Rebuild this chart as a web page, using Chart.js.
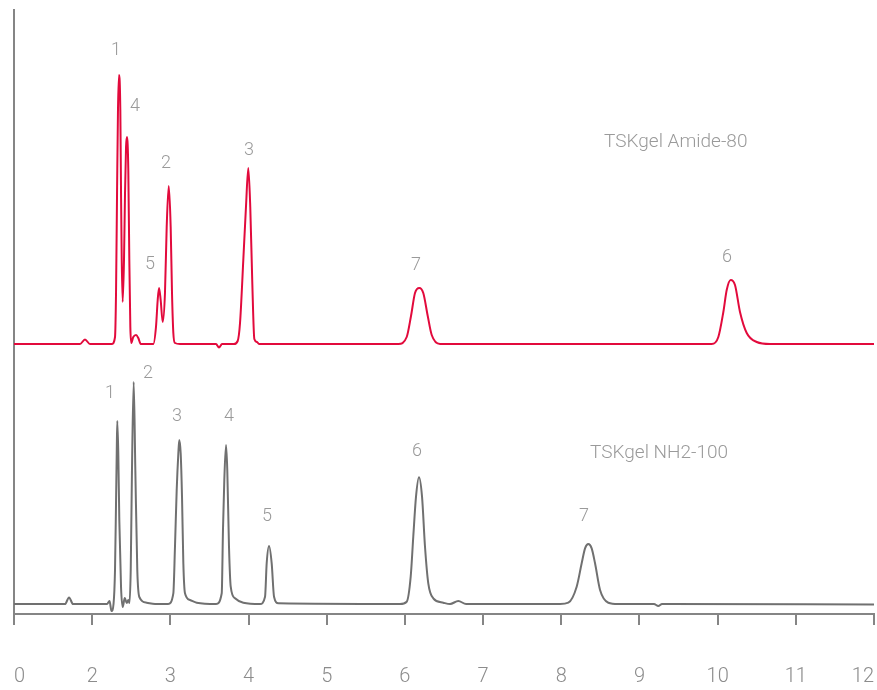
<!DOCTYPE html>
<html>
<head>
<meta charset="utf-8">
<script src="https://cdn.jsdelivr.net/npm/chart.js@4.4.0/dist/chart.umd.min.js"></script>
<style>
  html, body { margin: 0; padding: 0; background: #fff; }
</style>
</head>
<body>
<canvas id="chromChart" width="877" height="690"></canvas>
<script>
/* ---------------- DATA (retention time in min, detector signal) ---------------- */
const tickLabels = ["0", "2", "3", "4", "5", "6", "7", "8", "9", "10", "11", "12"];

// TSKgel Amide-80 (red trace, drawn offset above)
const amideTime = [
  1.000, 1.844, 1.908, 1.972, 2.254, 2.292, 2.305, 2.318, 2.330, 2.343, 2.360, 2.369,
  2.378, 2.390, 2.407, 2.420, 2.433, 2.445, 2.462, 2.475, 2.488, 2.500, 2.526, 2.561,
  2.590, 2.621, 2.782, 2.816, 2.838, 2.855, 2.876, 2.902, 2.931, 2.953, 2.979, 3.004,
  3.021, 3.038, 3.059, 3.123, 3.584, 3.622, 3.661, 3.814, 3.861, 3.891, 3.933, 3.967,
  3.997, 4.022, 4.048, 4.074, 4.108, 4.134, 5.916, 6.023, 6.078, 6.129, 6.184, 6.235,
  6.292, 6.343, 6.449, 9.924, 10.009, 10.073, 10.116, 10.167, 10.222, 10.286, 10.372,
  10.500, 10.670, 12.000
];
const amideSignal = [
  270, 270, 274.5, 270, 270, 277, 321, 421, 504, 539, 504, 421,
  354, 312, 354, 421, 467, 477, 444, 354, 287, 271, 277, 279,
  276, 270, 270, 287, 314, 326, 314, 292, 321, 387, 428, 387,
  321, 281, 271, 270, 270, 266.5, 270, 270, 273, 291, 354, 407,
  446, 407, 331, 275, 272, 270, 270, 277, 298, 321, 326, 321,
  298, 279, 270, 270, 277, 302, 324, 334, 329, 302, 281,
  272, 270, 270
];

// TSKgel NH2-100 (grey trace)
const nh2Time = [
  1.000, 1.652, 1.704, 1.755, 2.190, 2.222, 2.247, 2.273, 2.292, 2.305, 2.314, 2.321,
  2.334, 2.347, 2.369, 2.390, 2.417, 2.442, 2.462, 2.477, 2.493, 2.509, 2.531, 2.552,
  2.577, 2.603, 2.697, 2.804, 2.970, 3.038, 3.059, 3.081, 3.102, 3.114, 3.132, 3.149,
  3.166, 3.187, 3.251, 3.337, 3.584, 3.657, 3.673, 3.690, 3.712, 3.728, 3.750, 3.772,
  3.827, 3.933, 4.147, 4.211, 4.232, 4.262, 4.296, 4.326, 4.381, 5.937, 6.023, 6.074,
  6.107, 6.142, 6.180, 6.219, 6.257, 6.299, 6.363, 6.491, 6.577, 6.683, 6.782, 7.984,
  8.090, 8.197, 8.261, 8.304, 8.346, 8.389, 8.432, 8.496, 8.602, 8.726, 9.186, 9.241,
  9.289, 12.000
];
const nh2Signal = [
  10, 10, 16.5, 10, 10, 13, 3, 10, 44, 111, 161, 193,
  161, 94, 27, 7, 16, 11, 14, 11, 44, 144, 232, 144,
  44, 17, 11.3, 10, 10, 20.7, 67.3, 124, 160.7, 174, 160.7, 117.3,
  50.7, 20.7, 14, 11.3, 10, 20.7, 84, 134, 169, 144, 67.3, 27.3,
  15.7, 11.3, 10, 17.3, 50.7, 68, 50.7, 17.3, 10.7, 10, 12.3, 37.3,
  77.3, 117.3, 136.7, 117.3, 67.3, 30.7, 15.7, 11.3, 10, 13, 10, 10,
  11.3, 27.3, 50.7, 65.7, 70, 65.7, 50.7, 24, 11.3, 10, 10, 8,
  10, 9.5
];

// peak numbers (text, time, signal where the number sits)
const amideLabels = [
  ["1", 2.305, 564], ["4", 2.548, 508], ["5", 2.740, 350], ["2", 2.944, 451],
  ["3", 4.006, 464], ["7", 6.142, 349], ["6", 10.120, 357]
];
const nh2Labels = [
  ["1", 2.228, 221], ["2", 2.714, 241], ["3", 3.085, 198], ["4", 3.750, 198],
  ["5", 4.236, 98], ["6", 6.155, 163], ["7", 8.291, 98]
];
const seriesNames = [
  ["TSKgel Amide-80", 8.547, 472],
  ["TSKgel NH2-100", 8.368, 161]
];

/* ---------------- HELPERS ---------------- */
const toPoints = (xs, ys) => xs.map((x, i) => ({ x, y: ys[i] }));

const AXIS = "#858585";
const TEXT = "#9a9a9a";
const FONT = "Roboto, 'Liberation Sans', sans-serif";

const labelPlugin = {
  id: "peakLabels",
  afterDatasetsDraw(chart) {
    const { ctx, scales } = chart;
    const px = (t) => scales.x.getPixelForValue(t);
    const py = (v) => scales.y.getPixelForValue(v);
    ctx.save();
    ctx.fillStyle = TEXT;
    ctx.textBaseline = "middle";
    ctx.textAlign = "center";
    ctx.font = "300 18px " + FONT;
    [...amideLabels, ...nh2Labels].forEach(([txt, t, v]) => ctx.fillText(txt, px(t), py(v)));
    ctx.textAlign = "left";
    ctx.font = "300 19px " + FONT;
    seriesNames.forEach(([txt, t, v]) => ctx.fillText(txt, px(t), py(v)));
    ctx.restore();
  },
};

/* ---------------- CHART ---------------- */
new Chart(document.getElementById("chromChart").getContext("2d"), {
  type: "line",
  data: {
    datasets: [
      {
        label: "TSKgel Amide-80",
        data: toPoints(amideTime, amideSignal),
        borderColor: "#e20a3c",
        borderWidth: 2,
        pointRadius: 0,
        cubicInterpolationMode: "monotone",
        fill: false,
      },
      {
        label: "TSKgel NH2-100",
        data: toPoints(nh2Time, nh2Signal),
        borderColor: "#707070",
        borderWidth: 2,
        pointRadius: 0,
        cubicInterpolationMode: "monotone",
        fill: false,
      },
    ],
  },
  options: {
    responsive: false,
    animation: false,
    layout: { padding: { left: 14, right: 3, top: 10, bottom: 0 } },
    plugins: { legend: { display: false }, tooltip: { enabled: false } },
    scales: {
      x: {
        type: "linear",
        min: 1,
        max: 12,
        afterFit: (s) => { s.height = 76; s.paddingLeft = 0; s.paddingRight = 0; },
        border: { display: true, color: AXIS, width: 2 },
        grid: { drawOnChartArea: false, drawTicks: true, tickLength: 11, color: AXIS, lineWidth: 2 },
        ticks: {
          stepSize: 1,
          autoSkip: false,
          maxRotation: 0,
          align: "inner",
          padding: 40,
          color: "#8c8c8c",
          font: { family: FONT, size: 20, weight: "300" },
          callback: (v) => tickLabels[Math.round(v) - 1],
        },
      },
      y: {
        type: "linear",
        min: 0,
        max: 604,
        afterFit: (s) => { s.width = 0; },
        border: { display: true, color: AXIS, width: 2 },
        grid: { display: false },
        ticks: { display: false },
      },
    },
  },
  plugins: [labelPlugin],
});
</script>
</body>
</html>
